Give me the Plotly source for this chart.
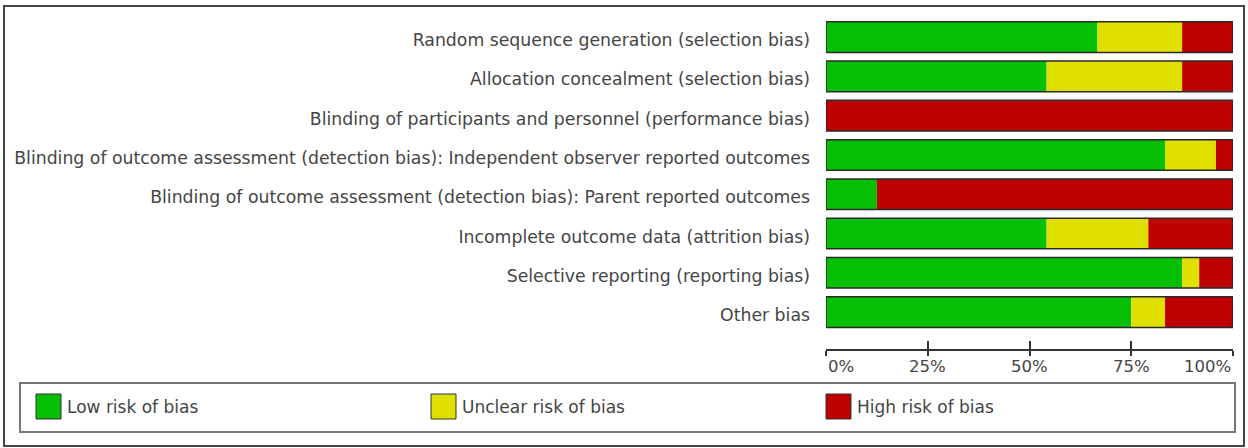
import plotly.graph_objects as go

# ---- data ----
domains = [
    "Random sequence generation (selection bias)",
    "Allocation concealment (selection bias)",
    "Blinding of participants and personnel (performance bias)",
    "Blinding of outcome assessment (detection bias): Independent observer reported outcomes",
    "Blinding of outcome assessment (detection bias): Parent reported outcomes",
    "Incomplete outcome data (attrition bias)",
    "Selective reporting (reporting bias)",
    "Other bias",
]
low = [66.7, 54.2, 0.0, 83.3, 12.5, 54.2, 87.5, 75.0]
unclear = [20.8, 33.3, 0.0, 12.5, 0.0, 25.0, 4.2, 8.3]
high = [12.5, 12.5, 100.0, 4.2, 87.5, 20.8, 8.3, 16.7]

series_names = ["Low risk of bias", "Unclear risk of bias", "High risk of bias"]
series_values = [low, unclear, high]
colors = ["#04BF04", "#E0E000", "#BF0000"]

x_ticks = [0, 25, 50, 75, 100]
x_tick_labels = ["0%", "25%", "50%", "75%", "100%"]

# ---- layout geometry (pixels) ----
W, H = 1248, 448
PL, PR, PT, PB = 826, 1233, 12, 349
FONT = "DejaVu Sans, Liberation Sans, Arial, sans-serif"
TXT = "#454545"


def px_x(p):
    return (p - PL) / (PR - PL)


def px_y(p):
    return (PB - p) / (PB - PT)


ypos = list(range(len(domains)))
fig = go.Figure()

# stacked segments with explicit bases
bases = [0.0] * len(domains)
for name, vals, col in zip(series_names, series_values, colors):
    fig.add_trace(go.Bar(
        y=ypos, x=vals, base=bases[:], orientation="h", name=name,
        marker=dict(color=col, line=dict(width=0)), width=0.78,
        showlegend=False, hoverinfo="skip",
    ))
    bases = [b + v for b, v in zip(bases, vals)]

# outline around each whole bar
fig.add_trace(go.Bar(
    y=ypos, x=bases, base=[0] * len(domains), orientation="h",
    marker=dict(color="rgba(0,0,0,0)", line=dict(color="#2a2a2a", width=1.5)),
    width=0.78, showlegend=False, hoverinfo="skip",
))

fig.update_layout(
    width=W, height=H,
    margin=dict(l=PL, r=W - PR, t=PT, b=H - PB, pad=0),
    barmode="overlay",
    plot_bgcolor="white", paper_bgcolor="white",
    font=dict(family=FONT, size=17, color=TXT),
    xaxis=dict(
        range=[0, 100], tickvals=x_ticks, ticktext=[""] * len(x_ticks),
        showgrid=False, zeroline=False, showline=True, linecolor="#333",
        linewidth=1.5, ticks="outside", ticklen=5, tickwidth=1.5, tickcolor="#333",
    ),
    xaxis2=dict(
        range=[0, 100], tickvals=x_ticks, ticktext=[""] * len(x_ticks),
        overlaying="x", side="bottom", anchor="y",
        showgrid=False, zeroline=False, showline=False,
        ticks="inside", ticklen=8, tickwidth=1.5, tickcolor="#333",
    ),
    yaxis=dict(
        range=[len(domains) - 1 + 0.94, -0.64], tickvals=ypos, ticktext=domains,
        showgrid=False, zeroline=False, showline=False, ticks="",
        ticklabelstandoff=15, ticklabelshift=-3,
        tickfont=dict(size=17.3, color=TXT),
    ),
)
# invisible trace so xaxis2 is drawn
fig.add_trace(go.Scatter(x=[0], y=[0], xaxis="x2", mode="markers",
                         marker=dict(opacity=0), showlegend=False, hoverinfo="skip"))

# x tick labels
anchors = ["left"] + ["center"] * (len(x_ticks) - 2) + ["right"]
for v, lab, anc in zip(x_ticks, x_tick_labels, anchors):
    fig.add_annotation(x=v, xref="x", y=0, yref="paper", text=lab, showarrow=False,
                       xanchor=anc, yanchor="middle", yshift=-17,
                       font=dict(size=16.5, color=TXT))

shapes = []
# outer border
shapes.append(dict(type="rect", xref="paper", yref="paper",
                   x0=px_x(4), x1=px_x(1244), y0=px_y(446), y1=px_y(6),
                   line=dict(color="#444", width=2), fillcolor="rgba(0,0,0,0)", layer="below"))
# legend box
shapes.append(dict(type="rect", xref="paper", yref="paper",
                   x0=px_x(20), x1=px_x(1235), y0=px_y(432), y1=px_y(383),
                   line=dict(color="#777", width=2), fillcolor="rgba(0,0,0,0)"))
step = 395
for i, (name, col) in enumerate(zip(series_names, colors)):
    sx = 36 + i * step
    shapes.append(dict(type="rect", xref="paper", yref="paper",
                       x0=px_x(sx), x1=px_x(sx + 25), y0=px_y(419), y1=px_y(394),
                       line=dict(color="#333", width=1), fillcolor=col))
    fig.add_annotation(x=px_x(sx + 29), xref="paper", y=px_y(407), yref="paper",
                       text=name, showarrow=False, xanchor="left", yanchor="middle",
                       font=dict(size=17, color=TXT))
fig.update_layout(shapes=shapes)

fig.write_html("out.html")
